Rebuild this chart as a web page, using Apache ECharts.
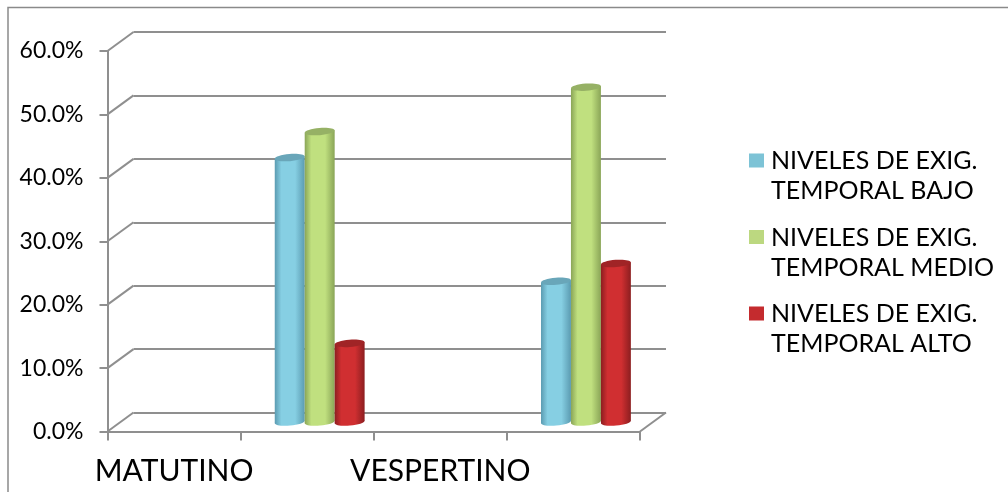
<!DOCTYPE html>
<html>
<head>
<meta charset="utf-8">
<style>html,body{margin:0;padding:0;background:#fff}#chart{width:1008px;height:492px}</style>
<script src="https://cdn.jsdelivr.net/npm/echarts@6/dist/echarts.min.js"></script>
</head>
<body>
<div id="chart"></div>
<script>
// Chart values
const categories = ['MATUTINO', '', 'VESPERTINO', ''];
const bajo = [null, 41.7, null, 22.2];
const medio = [null, 45.8, null, 52.8];
const alto = [null, 12.4, null, 25.0];
const scaleTicks = [0, 10, 20, 30, 40, 50, 60];
const seriesNames = ['NIVELES DE EXIG.\nTEMPORAL BAJO', 'NIVELES DE EXIG.\nTEMPORAL MEDIO', 'NIVELES DE EXIG.\nTEMPORAL ALTO'];

const FONT = 'Lato, "Open Sans", sans-serif';
const GRID_COLOR = '#8f8f8f';
const DEPTH_X = 26, DEPTH_Y = 19;

// Cylinder shades per series: side edge, body centre, lid, legend swatch
const shades = [
  { edge: '#5b9bb1', mid: '#86cfe3', lid: '#69a6b9', key: '#7dc3d6' },
  { edge: '#8aa557', mid: '#c0e07f', lid: '#96b165', key: '#bcd880' },
  { edge: '#8c1e20', mid: '#d02f31', lid: '#a02426', key: '#c42b2e' }
];

// Three stacked plot planes: front (axes), middle (cylinders), back wall (gridlines)
const plane = (dx, dy) => ({ left: 107.5 + dx, top: 51 - dy, width: 532.5, height: 380.5 });

function cylinder(k) {
  return function (params, api) {
    const v = api.value(1);
    if (v == null || isNaN(v)) return null;
    const band = api.size([1, 0])[0];
    const r = band * 0.1125;
    const top = api.coord([api.value(0), v]);
    const base = api.coord([api.value(0), 0]);
    const cx = top[0] + (k - 1) * r * 2 - 0.5;
    const tilt = 1.2, ry = 3.6;
    const s = shades[k];
    const fill = new echarts.graphic.LinearGradient(0, 0, 1, 0, [
      { offset: 0, color: s.edge },
      { offset: 0.22, color: s.mid },
      { offset: 0.68, color: s.mid },
      { offset: 1, color: s.edge }
    ]);
    const ellipse = (cy, color) => ({
      type: 'ellipse',
      shape: { cx: cx, cy: cy, rx: r, ry: ry },
      originX: cx, originY: cy, rotation: 0.08,
      style: { fill: color }
    });
    return {
      type: 'group',
      children: [
        ellipse(base[1], fill),
        {
          type: 'polygon',
          shape: { points: [
            [cx - r, top[1] + tilt], [cx + r, top[1] - tilt],
            [cx + r, base[1] - tilt], [cx - r, base[1] + tilt]
          ] },
          style: { fill: fill }
        },
        ellipse(top[1], s.lid)
      ]
    };
  };
}

// Receding lines that join the front scale to the back wall
function depthLines(params, api) {
  const cs = params.coordSys;
  const v = api.value(0);
  const y = api.coord([0, v])[1];
  const stroke = { stroke: GRID_COLOR, lineWidth: 2 };
  const seg = (x) => ({
    type: 'line',
    shape: { x1: x, y1: y, x2: x + DEPTH_X, y2: y - DEPTH_Y },
    style: stroke
  });
  const children = [seg(cs.x)];
  if (v === 0) children.push(seg(cs.x + cs.width));
  return { type: 'group', children: children };
}

const xAxisBase = { type: 'category', data: categories };
const yAxisBase = { type: 'value', min: 0, max: 60, interval: 10 };
const hidden = { axisLine: { show: false }, axisTick: { show: false }, axisLabel: { show: false }, splitLine: { show: false } };

const option = {
  animation: false,
  backgroundColor: '#ffffff',
  grid: [plane(0, 0), plane(13, 9.5), plane(DEPTH_X, DEPTH_Y)],
  xAxis: [
    Object.assign({}, xAxisBase, {
      gridIndex: 0,
      axisLine: { lineStyle: { color: GRID_COLOR, width: 2 } },
      axisTick: { show: true, length: 9, alignWithLabel: false, lineStyle: { color: GRID_COLOR, width: 2 } },
      axisLabel: { interval: 0, color: '#000', fontFamily: FONT, fontSize: 30, margin: 25 },
      splitLine: { show: false }
    }),
    Object.assign({}, xAxisBase, hidden, { gridIndex: 1 }),
    Object.assign({}, xAxisBase, hidden, { gridIndex: 2 })
  ],
  yAxis: [
    Object.assign({}, yAxisBase, {
      gridIndex: 0,
      axisLine: { show: true, lineStyle: { color: GRID_COLOR, width: 2 } },
      axisTick: { show: true, length: 8, lineStyle: { color: GRID_COLOR, width: 2 } },
      axisLabel: { color: '#000', fontFamily: FONT, fontSize: 23, margin: 24, formatter: (v) => v.toFixed(1) + '%' },
      splitLine: { show: false }
    }),
    Object.assign({}, yAxisBase, hidden, { gridIndex: 1 }),
    Object.assign({}, yAxisBase, hidden, {
      gridIndex: 2,
      splitLine: { show: true, lineStyle: { color: GRID_COLOR, width: 2 } }
    })
  ],
  legend: {
    left: 744,
    top: 141,
    orient: 'vertical',
    // Swatch sits beside the first text line: the empty segment stretches the symbol box downwards
    icon: 'path://M0 0H15V14H0ZM0 45L15 45L15 45Z',
    itemWidth: 15,
    itemHeight: 45,
    itemGap: 16.5,
    textStyle: { color: '#000', fontFamily: FONT, fontSize: 25, lineHeight: 30, padding: [0, 0, 0, 2] },
    data: seriesNames
  },
  graphic: [
    { type: 'polyline', silent: true, shape: { points: [[8, 492], [8, 7.5], [1008, 7.5]] }, style: { fill: 'none', stroke: '#8a8a8a', lineWidth: 1.5 } }
  ],
  series: [
    { type: 'custom', xAxisIndex: 0, yAxisIndex: 0, silent: true, legendHoverLink: false, renderItem: depthLines, data: scaleTicks.map((v) => [v]), encode: { x: -1, y: 0 }, z: 1 }
  ].concat([bajo, medio, alto].map((values, k) => ({
    name: seriesNames[k],
    type: 'custom',
    xAxisIndex: 1,
    yAxisIndex: 1,
    renderItem: cylinder(k),
    itemStyle: { color: shades[k].key },
    data: values.map((v, i) => [i, v]),
    encode: { x: 0, y: 1 },
    z: 3 + k
  })))
};

echarts.init(document.getElementById('chart'), null, { renderer: 'canvas' }).setOption(option);
</script>
</body>
</html>
